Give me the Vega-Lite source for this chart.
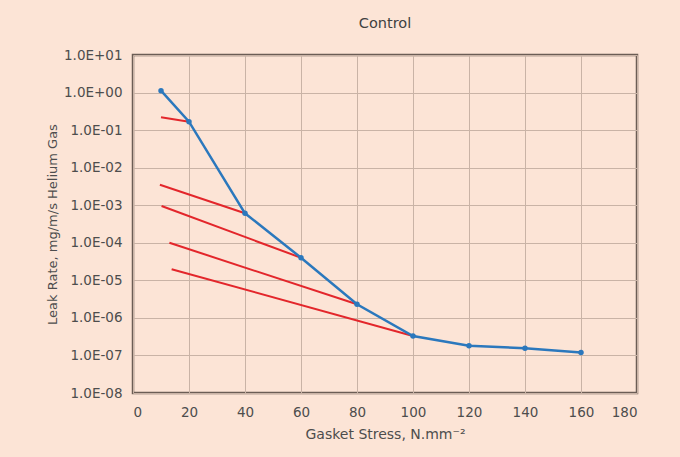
{
  "$schema": "https://vega.github.io/schema/vega-lite/v6.json",
  "autosize": "none",
  "width": 504,
  "height": 338,
  "padding": {"left": 133, "top": 55, "right": 43, "bottom": 64},
  "background": "#fce4d6",
  "title": {"text": "Control", "font": "DejaVu Sans", "fontSize": 14.5, "fontWeight": "normal", "color": "#404040", "offset": 17},
  "config": {
    "view": {"stroke": "#6b5d55", "strokeWidth": 2.5, "fill": "#fce4d6"},
    "axis": {"labelFont": "DejaVu Sans", "titleFont": "DejaVu Sans", "labelFontSize": 13.5, "titleFontSize": 13, "titleFontWeight": "normal", "labelColor": "#4d4d4d", "titleColor": "#4d4d4d", "gridColor": "#c9b3a6", "gridOpacity": 1, "gridWidth": 1, "domain": false, "ticks": false}
  },
  "datasets": {
    "pts": [
      {"series": "Measured", "stress": 10, "leak": 1.12},
      {"series": "Measured", "stress": 20, "leak": 0.168},
      {"series": "Measured", "stress": 40, "leak": 0.00061},
      {"series": "Measured", "stress": 60, "leak": 0.00004},
      {"series": "Measured", "stress": 80, "leak": 0.0000023},
      {"series": "Measured", "stress": 100, "leak": 0.00000033},
      {"series": "Measured", "stress": 120, "leak": 0.000000182},
      {"series": "Measured", "stress": 140, "leak": 0.000000155},
      {"series": "Measured", "stress": 160, "leak": 0.000000119}
    ],
    "tangents": [
      {"segment": "A", "stress": 10, "leak": 0.22},
      {"segment": "A", "stress": 20, "leak": 0.168},
      {"segment": "B", "stress": 9.6, "leak": 0.0035},
      {"segment": "B", "stress": 40, "leak": 0.00061},
      {"segment": "C", "stress": 10.2, "leak": 0.00095},
      {"segment": "C", "stress": 60, "leak": 0.00004},
      {"segment": "D", "stress": 13, "leak": 0.0001},
      {"segment": "D", "stress": 80, "leak": 0.0000023},
      {"segment": "E", "stress": 13.8, "leak": 0.0000197},
      {"segment": "E", "stress": 100, "leak": 0.00000033}
    ]
  },
  "layer": [
    {
      "data": {"name": "tangents"},
      "mark": {"type": "line", "color": "#e3262b", "strokeWidth": 2},
      "encoding": {
        "x": {"field": "stress", "type": "quantitative", "scale": {"domain": [0, 180], "nice": false}, "axis": {"values": [0,20,40,60,80,100,120,140,160,180], "title": "Gasket Stress, N.mm⁻²", "titleFontSize": 14, "labelPadding": 12, "titlePadding": 9}},
        "y": {"field": "leak", "type": "quantitative", "scale": {"type": "log", "domain": [1e-8, 10], "nice": false}, "axis": {"values": [1e-8,1e-7,1e-6,1e-5,1e-4,1e-3,1e-2,1e-1,1,10], "title": "Leak Rate, mg/m/s Helium Gas", "labelPadding": 11, "titlePadding": 4, "labelExpr": "'1.0E' + (log(datum.value)/LN10 > -0.01 ? '+' : '-') + pad(toString(abs(round(log(datum.value)/LN10))), 2, '0', 'left')"}},
        "detail": {"field": "segment"}
      }
    },
    {
      "data": {"name": "pts"},
      "mark": {"type": "line", "color": "#2b78bd", "strokeWidth": 2.5, "point": {"filled": true, "size": 30, "color": "#2b78bd"}},
      "encoding": {
        "x": {"field": "stress", "type": "quantitative"},
        "y": {"field": "leak", "type": "quantitative"}
      }
    }
  ]
}
